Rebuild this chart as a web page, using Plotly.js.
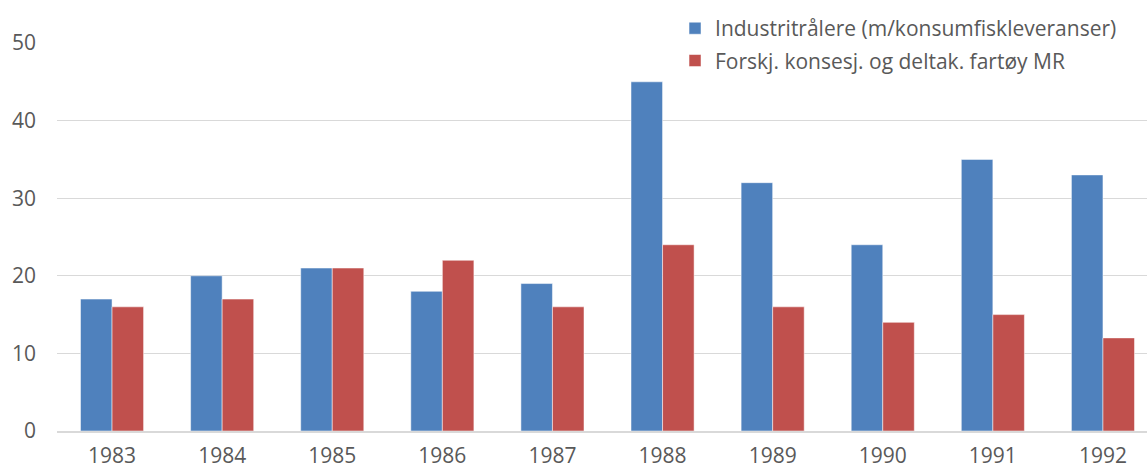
<!DOCTYPE html>
<html>
<head>
<meta charset="utf-8">
<script src="https://cdn.plot.ly/plotly-3.0.1.min.js"></script>
<style>html,body{margin:0;padding:0;background:#fff;}#chart{width:1147px;height:471px;}</style>
</head>
<body>
<div id="chart"></div>
<script>
const years = ["1983","1984","1985","1986","1987","1988","1989","1990","1991","1992"];
const industritralere = [17,20,21,18,19,45,32,24,35,33];
const forskjKonsesj = [16,17,21,22,16,24,16,14,15,12];
const seriesNames = ["Industritrålere (m/konsumfiskleveranser)", "Forskj. konsesj. og deltak. fartøy MR"];
const yTicks = [0,10,20,30,40,50];

const traces = [
  {type:"bar", x:years, y:industritralere, name:seriesNames[0], legendgroup:"a",
   marker:{color:"#4f81bd", line:{color:"#ffffff", width:0.5}}},
  {type:"bar", x:years, y:forskjKonsesj, name:seriesNames[1], legendgroup:"b",
   marker:{color:"#c0504d", line:{color:"#ffffff", width:0.5}}}
];
const layout = {
  width:1147, height:471,
  margin:{l:57, r:0, t:43, b:40},
  paper_bgcolor:"#ffffff", plot_bgcolor:"#ffffff",
  font:{family:"Open Sans, sans-serif", color:"#595959", size:21},
  barmode:"group", bargap:0.427, bargroupgap:0,
  xaxis:{type:"category", range:[-0.5, 9.4], showgrid:false, zeroline:false,
         showline:true, linecolor:"#d9d9d9", linewidth:1.5, ticks:"", ticklabelstandoff:5,
         tickfont:{size:21, color:"#595959"}, fixedrange:true},
  yaxis:{range:[0,50], tickvals:yTicks, showgrid:true, gridcolor:"#d9d9d9", gridwidth:1.3,
         zeroline:false, showline:false, ticks:"", ticklabelstandoff:20,
         tickfont:{size:21, color:"#595959"}, fixedrange:true},
  legend:{x:0.567, xanchor:"left", y:1.09, yanchor:"top", orientation:"v",
          traceorder:"grouped", tracegroupgap:2, bgcolor:"rgba(0,0,0,0)",
          font:{size:21, color:"#595959"}, itemwidth:30}
};
Plotly.newPlot("chart", traces, layout, {displayModeBar:false, staticPlot:true});
</script>
</body>
</html>
